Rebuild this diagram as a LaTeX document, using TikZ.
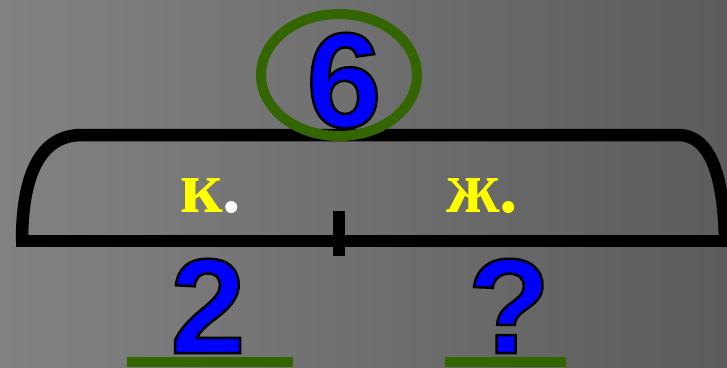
\documentclass[tikz,border=0pt]{standalone}
\usepackage{fontspec}
\usetikzlibrary{shapes.geometric}
\setmainfont{Liberation Serif}
\newfontfamily\digitfont{Liberation Sans}
\newcommand\outlinetext[1]{\special{pdf:literal direct 0 0 0 RG 2.5 w 2 Tr}#1\special{pdf:literal direct 0 Tr}}
\definecolor{bgL}{RGB}{130,130,130}
\definecolor{bgR}{RGB}{92,92,92}
\definecolor{leaf}{RGB}{51,102,0}
\definecolor{numblue}{RGB}{0,0,255}
\definecolor{lbl}{RGB}{255,255,0}
\tikzset{
  bignum/.style={inner sep=0pt, anchor=base, font=\digitfont\bfseries\fontsize{135}{135}\selectfont, text=numblue},
  letter/.style={inner sep=0pt, anchor=base west, font=\bfseries\fontsize{74}{74}\selectfont, text=lbl},
  bracketline/.style={line width=12.5pt, black},
  bar/.style={fill=leaf, draw=none},
}
\begin{document}
\begin{tikzpicture}[x=1pt,y=-1pt]
\useasboundingbox (0,0) rectangle (727,367);
\shade[left color=bgL, right color=bgR] (0,0) rectangle (727,367);
% bracket
\draw[bracketline, line join=round] (22,242) .. controls (22,175) and (40,135) .. (82,135) -- (678,135) .. controls (712,135) and (724,180) .. (725,242);
\draw[bracketline] (16,241) -- (727,241);
\coordinate (ticktop) at (339,211);
\coordinate (tickbot) at (339,256);
\draw[bracketline] (ticktop) -- (tickbot);
% ellipse and 6
\node[draw=leaf, line width=10pt, ellipse, minimum width=156pt, minimum height=122pt, inner sep=0pt] (ell) at (339,75) {};
\node[bignum] (six) at (344,127) {\outlinetext{6}};
% letters
\node[letter] (k) at (180,212) {к\textcolor{white}{.}};
\node[letter] (zh) at (446,212) {ж.};
% answers
\node[bignum] (two) at (208,353) {\outlinetext{2}};
\node[bignum] (q) at (509,353) {\outlinetext{?}};
\fill[bar] (127,357) rectangle (293,367);
\fill[bar] (445,357) rectangle (566,367);
\end{tikzpicture}
\end{document}
